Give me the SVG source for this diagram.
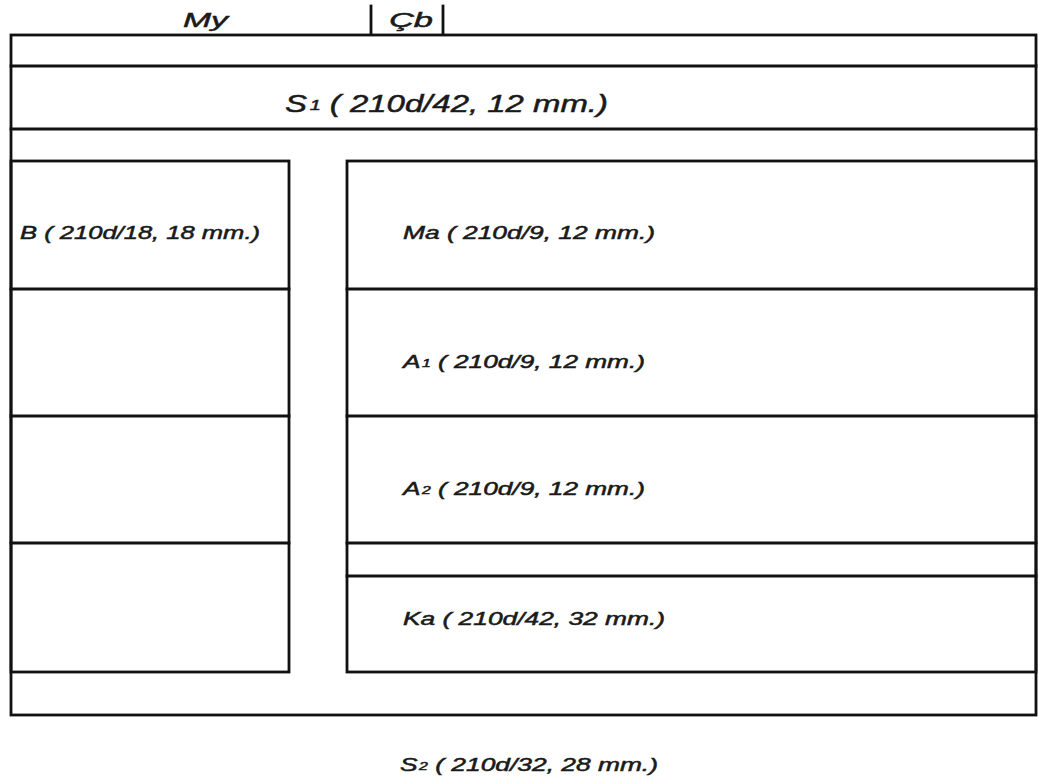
<svg xmlns="http://www.w3.org/2000/svg" width="1038" height="783" viewBox="0 0 1038 783">
<style>
.ln{stroke:#111;stroke-width:2.8;fill:none;stroke-linecap:square}
.t{font-family:"Liberation Sans",Arial,sans-serif;font-style:italic;fill:#1a1a1a;stroke:#1a1a1a;stroke-width:0.5}
.s{font-size:60%}
</style>
<rect width="1038" height="783" fill="#fff"/>
<g id="header">
  <text class="t" x="183" y="27" font-size="21" textLength="45" lengthAdjust="spacingAndGlyphs">My</text>
  <line class="ln" x1="371" y1="6" x2="371" y2="33"/>
  <line class="ln" x1="443" y1="6" x2="443" y2="33"/>
  <text class="t" x="389" y="27" font-size="21" textLength="44" lengthAdjust="spacingAndGlyphs">Çb</text>
</g>
<g id="frame">
  <rect class="ln" x="11" y="35" width="1025" height="680"/>
  <line class="ln" x1="11" y1="66" x2="1036" y2="66"/>
  <line class="ln" x1="11" y1="129" x2="1036" y2="129"/>
</g>
<g id="S1">
  <text class="t" x="285" y="112" font-size="24" textLength="323" lengthAdjust="spacingAndGlyphs">S<tspan class="s" dx="2" dy="-2">1</tspan><tspan dy="2"> ( 210d/42, 12 mm.)</tspan></text>
</g>
<g id="left-column">
  <rect class="ln" x="11" y="161" width="278" height="511"/>
  <line class="ln" x1="11" y1="289" x2="289" y2="289"/>
  <line class="ln" x1="11" y1="416" x2="289" y2="416"/>
  <line class="ln" x1="11" y1="543" x2="289" y2="543"/>
</g>
<g id="B">
  <text class="t" x="20" y="239" font-size="18" textLength="240" lengthAdjust="spacingAndGlyphs">B ( 210d/18, 18 mm.)</text>
</g>
<g id="right-column">
  <rect class="ln" x="347" y="161" width="689" height="511"/>
  <line class="ln" x1="347" y1="289" x2="1036" y2="289"/>
  <line class="ln" x1="347" y1="416" x2="1036" y2="416"/>
  <line class="ln" x1="347" y1="543" x2="1036" y2="543"/>
  <line class="ln" x1="347" y1="576" x2="1036" y2="576"/>
</g>
<g id="Ma">
  <text class="t" x="403" y="239" font-size="18" textLength="252" lengthAdjust="spacingAndGlyphs">Ma ( 210d/9, 12 mm.)</text>
</g>
<g id="A1">
  <text class="t" x="403" y="368" font-size="18" textLength="242" lengthAdjust="spacingAndGlyphs">A<tspan class="s" dx="1" dy="-1">1</tspan><tspan dy="1"> ( 210d/9, 12 mm.)</tspan></text>
</g>
<g id="A2">
  <text class="t" x="403" y="495" font-size="18" textLength="242" lengthAdjust="spacingAndGlyphs">A<tspan class="s" dx="1" dy="-1">2</tspan><tspan dy="1"> ( 210d/9, 12 mm.)</tspan></text>
</g>
<g id="Ka">
  <text class="t" x="403" y="625" font-size="18" textLength="262" lengthAdjust="spacingAndGlyphs">Ka ( 210d/42, 32 mm.)</text>
</g>
<g id="S2">
  <text class="t" x="400" y="771" font-size="18" textLength="258" lengthAdjust="spacingAndGlyphs">S<tspan class="s" dx="1" dy="-1">2</tspan><tspan dy="1"> ( 210d/32, 28 mm.)</tspan></text>
</g>
<g id="connectors"></g>
</svg>
